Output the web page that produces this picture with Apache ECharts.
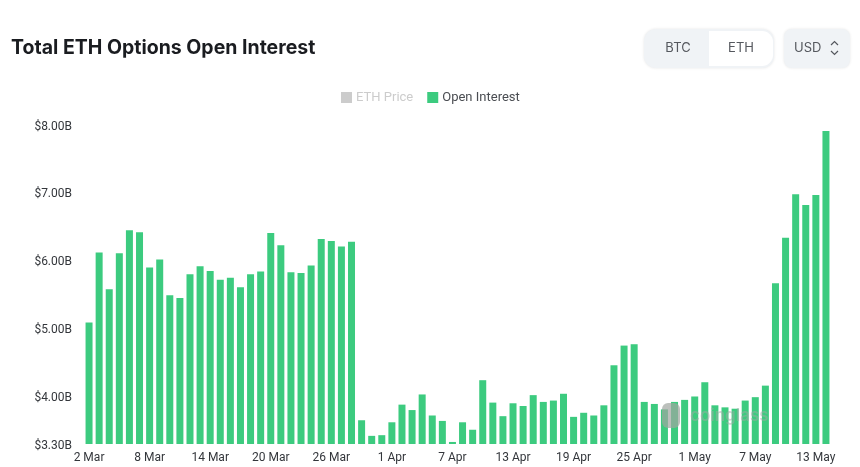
<!DOCTYPE html>
<html lang="en">
<head>
    <meta charset="UTF-8">
    <title>Total ETH Options Open Interest</title>
    <script src="https://cdn.jsdelivr.net/npm/echarts@6/dist/echarts.min.js"></script>
    <style>
        html, body { margin: 0; padding: 0; background: #fff; }
        #chart { width: 860px; height: 467px; }
    </style>
</head>
<body>
    <div id="chart"></div>
    <script>
        var dates = [
            '2 Mar', '3 Mar', '4 Mar', '5 Mar', '6 Mar', '7 Mar', '8 Mar', '9 Mar', '10 Mar', '11 Mar',
            '12 Mar', '13 Mar', '14 Mar', '15 Mar', '16 Mar', '17 Mar', '18 Mar', '19 Mar', '20 Mar', '21 Mar',
            '22 Mar', '23 Mar', '24 Mar', '25 Mar', '26 Mar', '27 Mar', '28 Mar', '29 Mar', '30 Mar', '31 Mar',
            '1 Apr', '2 Apr', '3 Apr', '4 Apr', '5 Apr', '6 Apr', '7 Apr', '8 Apr', '9 Apr', '10 Apr',
            '11 Apr', '12 Apr', '13 Apr', '14 Apr', '15 Apr', '16 Apr', '17 Apr', '18 Apr', '19 Apr', '20 Apr',
            '21 Apr', '22 Apr', '23 Apr', '24 Apr', '25 Apr', '26 Apr', '27 Apr', '28 Apr', '29 Apr', '30 Apr',
            '1 May', '2 May', '3 May', '4 May', '5 May', '6 May', '7 May', '8 May', '9 May', '10 May',
            '11 May', '12 May', '13 May', '14 May'
        ];
        // billions of USD
        var openInterest = [
            5.09, 6.12, 5.58, 6.11, 6.45, 6.42, 5.90, 6.02, 5.49, 5.45,
            5.80, 5.92, 5.85, 5.72, 5.75, 5.61, 5.80, 5.84, 6.41, 6.23,
            5.83, 5.82, 5.93, 6.32, 6.29, 6.21, 6.28, 3.65, 3.42, 3.43,
            3.62, 3.88, 3.80, 4.03, 3.72, 3.64, 3.33, 3.62, 3.51, 4.24,
            3.91, 3.71, 3.90, 3.86, 4.02, 3.92, 3.94, 4.04, 3.70, 3.76,
            3.72, 3.87, 4.46, 4.75, 4.77, 3.92, 3.89, 3.81, 3.92, 3.95,
            4.00, 4.21, 3.87, 3.84, 3.82, 3.94, 3.99, 4.16, 5.67, 6.34,
            6.98, 6.82, 6.97, 7.91
        ];
        var yTicks = [3.3, 4, 5, 6, 7, 8];

        var UI_FONT = 'Inter, "Noto Sans", sans-serif';
        var AXIS_FONT = 'Roboto, "Liberation Sans", sans-serif';

        var my_chart = echarts.init(document.getElementById('chart'), null, { renderer: 'canvas' });
        var option = {
            animation: false,
            backgroundColor: '#fff',
            title: {
                text: 'Total ETH Options Open Interest',
                left: 11,
                top: 38,
                padding: 0,
                textStyle: { fontFamily: UI_FONT, fontSize: 19.5, fontWeight: 700, color: '#1a1c20' }
            },
            legend: {
                left: 341,
                top: 91,
                padding: 0,
                icon: 'rect',
                itemWidth: 11,
                itemHeight: 11,
                itemGap: 14,
                inactiveColor: '#ccc',
                selected: { 'ETH Price': false, 'Open Interest': true },
                data: ['ETH Price', 'Open Interest'],
                textStyle: { fontFamily: AXIS_FONT, fontSize: 13, color: '#4a4d52', padding: [0, 0, 0, -1] }
            },
            grid: { left: 84, top: 125, width: 747, height: 319 },
            xAxis: {
                type: 'category',
                data: dates,
                axisLine: { show: false },
                axisTick: { show: false },
                axisLabel: {
                    interval: 5,
                    margin: 8,
                    fontFamily: AXIS_FONT,
                    fontSize: 12,
                    color: '#33363b'
                }
            },
            yAxis: {
                type: 'value',
                min: 3.3,
                max: 8,
                splitLine: { show: false },
                axisLine: { show: false },
                axisTick: { show: false },
                axisLabel: {
                    customValues: yTicks,
                    margin: 12,
                    verticalAlign: 'top',
                    lineHeight: 3,
                    fontFamily: AXIS_FONT,
                    fontSize: 12,
                    color: '#33363b',
                    formatter: function(v) {
                        return '$' + v.toFixed(2) + 'B';
                    }
                }
            },
            series: [
                {
                    name: 'ETH Price',
                    type: 'line',
                    itemStyle: { color: '#ccc' },
                    data: []
                },
                {
                    name: 'Open Interest',
                    type: 'bar',
                    barWidth: 7,
                    itemStyle: { color: '#3ccb7f' },
                    data: openInterest
                }
            ],
            graphic: [
                // BTC / ETH switch
                { type: 'rect', shape: { x: 644, y: 29, width: 130, height: 39, r: 12 }, style: { fill: '#f0f3f6', shadowBlur: 3, shadowColor: 'rgba(0,0,0,0.1)' }, z: 10 },
                { type: 'rect', shape: { x: 709, y: 31, width: 64, height: 35, r: [0, 11, 11, 0] }, style: { fill: '#fff' }, z: 11 },
                { type: 'text', x: 678, y: 48, style: { text: 'BTC', fill: '#55585e', font: '13px ' + UI_FONT, align: 'center', verticalAlign: 'middle' }, z: 12 },
                { type: 'text', x: 741, y: 48, style: { text: 'ETH', fill: '#55585e', font: '13px ' + UI_FONT, align: 'center', verticalAlign: 'middle' }, z: 12 },
                // currency select
                { type: 'rect', shape: { x: 784, y: 29, width: 66, height: 39, r: 8 }, style: { fill: '#f0f3f6', shadowBlur: 3, shadowColor: 'rgba(0,0,0,0.1)' }, z: 10 },
                { type: 'text', x: 794, y: 48, style: { text: 'USD', fill: '#55585e', font: '13px ' + UI_FONT, align: 'left', verticalAlign: 'middle' }, z: 12 },
                { type: 'polyline', shape: { points: [[831, 45], [834.5, 41.5], [838, 45]] }, style: { stroke: '#55585e', lineWidth: 1.2, fill: null }, z: 12 },
                { type: 'polyline', shape: { points: [[831, 51], [834.5, 54.5], [838, 51]] }, style: { stroke: '#55585e', lineWidth: 1.2, fill: null }, z: 12 },
                // watermark
                { type: 'rect', shape: { x: 662, y: 403, width: 18, height: 25, r: 6 }, style: { fill: 'rgba(160,165,160,0.7)' }, z: 20 },
                { type: 'text', x: 690, y: 416, style: { text: 'coinglass', fill: 'rgba(160,170,165,0.5)', font: '600 17px ' + UI_FONT, align: 'left', verticalAlign: 'middle' }, z: 20 }
            ]
        };
        my_chart.setOption(option);
    </script>
</body>
</html>
